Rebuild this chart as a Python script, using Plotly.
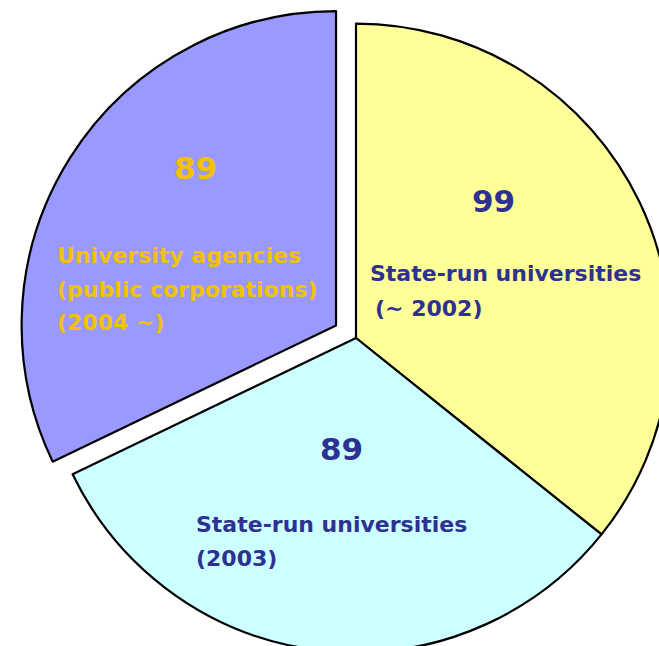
import plotly.graph_objects as go

# Data
labels = ["State-run universities (~ 2002)", "State-run universities (2003)",
          "University agencies (public corporations) (2004 ~)"]
values = [99, 89, 89]
colors = ["#FFFF99", "#CCFFFF", "#9999FF"]
pulls = [0, 0, 0.075]

# figure geometry (pie intentionally larger than the visible window, as in the reference)
W, H = 694, 676
L = 18
PW, PH = W - L, H

def xp(px):
    return (px - L) / PW

def yp(py):
    return 1 - py / PH

fig = go.Figure(go.Pie(
    labels=labels, values=values, sort=False, direction="clockwise", rotation=0,
    pull=pulls, marker=dict(colors=colors, line=dict(color="#000000", width=2.2)),
    textinfo="none", hoverinfo="label+value", showlegend=False,
))

NAVY = "#2E3192"
GOLD = "#F2C200"
FONT = "DejaVu Sans"

ann = []
def add(text, x, y, size, color, xanchor="left"):
    ann.append(dict(text="<b>%s</b>" % text, x=xp(x), y=yp(y), xref="paper", yref="paper",
                    xanchor=xanchor, yanchor="middle", showarrow=False,
                    font=dict(family=FONT, size=size, color=color)))

# purple slice
add(str(values[2]), 195, 168, 31, GOLD, "center")
add("University agencies", 55, 255, 22, GOLD)
add("(public corporations)", 55, 289, 22, GOLD)
add("(2004 ~)", 55, 322, 22, GOLD)
# yellow slice
add(str(values[0]), 493, 201, 31, NAVY, "center")
add("State-run universities", 368, 273, 22, NAVY)
add("(~ 2002)", 373, 308, 22, NAVY)
# cyan slice
add(str(values[1]), 341, 449, 31, NAVY, "center")
add("State-run universities", 194, 524, 22, NAVY)
add("(2003)", 194, 558, 22, NAVY)

fig.update_layout(
    width=W, height=H, autosize=False,
    margin=dict(l=L, r=0, t=0, b=0, pad=0),
    paper_bgcolor="white", plot_bgcolor="white",
    annotations=ann,
)

fig.write_html("out.html", config={"displayModeBar": False},
               post_script="document.documentElement.style.overflow='hidden';document.body.style.overflow='hidden';document.body.style.margin='0';")
